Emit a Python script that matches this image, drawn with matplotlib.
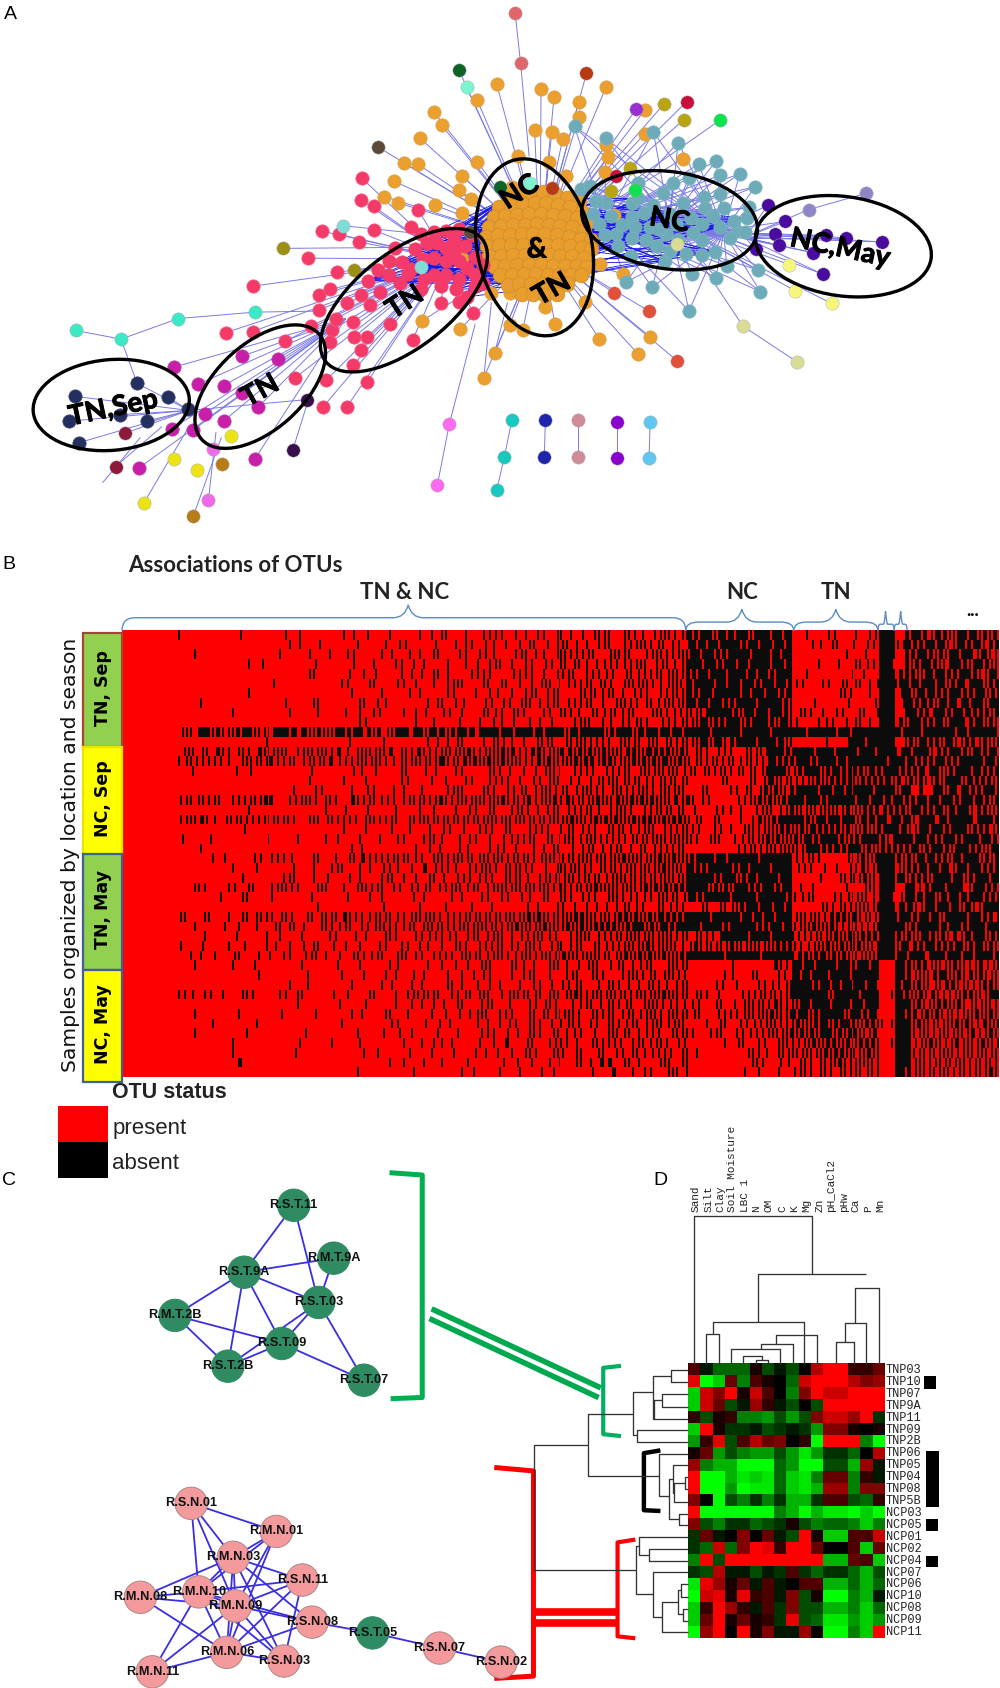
import numpy as np
import matplotlib
matplotlib.use("Agg")
import matplotlib.pyplot as plt
import matplotlib.patheffects as pe
from matplotlib.collections import LineCollection
from matplotlib.colors import LinearSegmentedColormap, ListedColormap
from matplotlib.patches import Ellipse, Rectangle, Circle, PathPatch
from matplotlib.path import Path

# ---- panel A nodes ----
orange_outer = [(460,78),(501,82),(513,90),(561,81),(442,93),(536,94),(402,104),(536,108),(409,116),(597,102),
                (389,128),(495,120),(511,122),(521,129),(597,124),(561,134),(563,145),(480,144),(508,150),(374,151),
                (387,152),(442,150),(428,163),(365,168),(425,176),(356,182),(369,188),(403,190),(436,184),(428,197),
                (524,163),(560,159),(474,173),(632,147),(569,199),(556,244),(577,254),(542,280),(391,297),(426,305),
                (472,301),(484,306),(514,300),(505,284),(472,271),(481,271),(455,271),(555,314),(602,312),(591,328),
                (458,327),(448,350),(428,239)]
orange_blob = [(470,183),(481,180),(492,178),(503,178),(514,180),(525,183),(536,187),
               (462,192),(473,191),(484,189),(495,188),(506,188),(517,190),(528,192),(539,196),
               (457,201),(468,200),(479,199),(490,198),(501,198),(512,199),(523,200),(534,202),(545,205),
               (453,210),(464,209),(475,208),(486,208),(497,207),(508,208),(519,209),(530,210),(541,213),
               (450,219),(461,218),(472,218),(483,217),(494,217),(505,217),(516,218),(527,219),(538,221),(547,222),
               (451,228),(462,227),(473,227),(484,227),(495,226),(506,227),(517,227),(528,228),(539,230),(547,231),
               (453,237),(464,237),(475,236),(486,236),(497,236),(508,236),(519,237),(530,237),(541,239),
               (457,246),(468,246),(479,245),(490,245),(501,245),(512,246),(523,246),(534,246),(543,247),
               (463,255),(474,255),(485,254),(496,254),(507,255),(518,255),(529,255),(538,255),
               (470,264),(481,263),(492,263),(503,263),(514,264),(525,263),
               (483,272),(494,272),(505,273),(516,272)]
teal_nodes = [(532,117),(561,128),(605,122),(628,132),(647,152),(663,149),(667,162),(685,161),(699,173),(623,169),
              (638,165),(614,179),(652,182),(667,180),(632,188),(653,193),(670,193),(692,202),(682,214),(667,210),
              (650,207),(620,198),(585,188),(591,183),(561,188),(549,198),(555,207),(585,201),(588,210),(602,210),
              (617,217),(626,207),(570,217),(585,220),(608,228),(635,235),(650,222),(662,233),(676,220),(616,242),
              (584,237),(641,254),(663,257),(673,246),(702,250),(704,270),(638,288),(604,266),(580,261),(538,175),
              (546,172),(591,169),(552,186),(566,200),(576,208),(596,197),(605,190),(610,212),(560,218),(640,202),
              (660,200),(642,216),(628,222),(598,222),(572,228),(690,215),(680,205),(620,232),(650,236),(694,192)]
pink_outer = [(335,165),(334,185),(346,191),(387,194),(346,213),(381,210),(298,214),(314,217),(332,224),(285,239),
              (312,252),(234,265),(295,273),(306,268),(295,287),(288,302),(209,308),(234,307),(264,316),(307,306),
              (306,317),(327,298),(311,295),(340,312),(328,312),(334,324),(382,315),(361,300),(327,338),(340,354),
              (302,352),(273,350),(299,377),(321,377),(408,281),(438,290),(425,280),(321,281),(343,282),(334,273)]
pink_core = [(341,260),(360,255),(378,254),(390,217),(402,215),(413,214),(425,212),(366,230),(384,231),(360,242),
             (381,249),(402,239),(413,242),(425,242),(440,238),(402,255),(413,255),(425,258),(440,255),(440,265),
             (422,268),(408,265),(393,258),(431,228),(413,230),(395,225),(405,225),(420,222),(437,218),(392,240),
             (372,243),(350,250),(370,262),(390,268),(432,248),(420,233),(447,245),(447,262),(432,275),(352,270)]
magenta_nodes = [(161,340),(183,356),(207,357),(224,330),(257,332),(190,383),(207,390),(239,377),(224,364),(159,397),
                 (179,398),(236,425),(129,433)]
navy_nodes = [(127,355),(69,367),(156,368),(174,379),(64,390),(111,384),(136,390),(73,410)]

small_groups = {
    "#8d1a3a": [(116,401),(107,432)],
    "#3de8c5": [(70,306),(112,314),(165,295),(236,289)],
    "#ebe316": [(214,404),(161,425),(182,435),(133,466)],
    "#ee6ae8": [(197,416),(193,463)],
    "#b67c19": [(206,430),(179,478)],
    "#3b0f4c": [(284,370),(271,417)],
    "#fb6cee": [(416,393),(405,449)],
    "#19c9c0": [(474,389),(467,423),(460,454)],
    "#1f24ad": [(505,389),(504,423)],
    "#cf8b97": [(535,389),(535,423)],
    "#8a00cc": [(571,391),(571,424)],
    "#5fc6f0": [(602,391),(601,424)],
    "#e0666b": [(477,12),(482,58)],
    "#0e6424": [(425,65),(463,173)],
    "#7cf5cf": [(432,81),(491,169)],
    "#b73a12": [(543,68),(511,174)],
    "#5b4a3a": [(350,136),(435,215)],
    "#9c8f14": [(262,230),(328,250)],
    "#7fdcd9": [(318,209),(390,247)],
    "#b9a414": [(615,96),(633,111),(583,156),(566,177)],
    "#cb0f3c": [(636,94),(570,163)],
    "#0ee34f": [(667,111),(588,176)],
    "#9a2fd0": [(589,101)],
    "#e2503a": [(569,271),(601,288),(627,334)],
    "#d8dd96": [(688,302),(738,335),(627,226)],
    "#f6f77a": [(731,245),(736,269),(770,281)],
    "#8f86c9": [(802,179),(749,194)],
    "#4a0ba0": [(711,190),(727,205),(718,217),(721,227),(700,231),(765,218),(783,220),(817,224),(753,234),(762,254)],
}
chain_links = [((70,306),(112,314)),((112,314),(165,295)),((165,295),(236,289)),((236,289),(300,288)),
               ((112,314),(127,355)),((477,12),(482,58)),((482,58),(490,145)),((416,393),(405,449)),
               ((416,393),(440,300)),((474,389),(467,423)),((467,423),(460,454)),((505,389),(504,423)),
               ((535,389),(535,423)),((571,391),(571,424)),((602,391),(601,424)),((688,302),(738,335)),
               ((688,302),(640,230)),((802,179),(749,194)),((749,194),(700,215)),((133,466),(175,395)),
               ((179,478),(205,405)),((193,463),(200,400)),((107,432),(150,395)),((95,447),(130,405)),
               ((271,417),(285,372)),((448,350),(455,280)),((458,327),(470,280))]

ellipses = [(103,375,145,84,-5),(241,358,146,80,-42),(374,278,184,88,-38),(495,229,166,106,78),(620,204,164,90,8),(781,228,164,92,8)]
ellipse_text = [("TN,Sep",105,378,12),("TN",241,362,29),("TN",375,280,33),("NC",481,178,33),("&",497,231,0),("TN",511,268,30),("NC",620,204,-10),("NC,May",778,230,-12)]

# ---- panel B, absent OTUs as hex (1 bit = absent), blocks: shared / NC / TN / other ----
otu_rows = [
"0800000010000020400001081002000410a0080492042090284105280a4412a45 dbf5eefd7fbef 01002400812 ff06fb2ed5f7ad6",
"0000000000000840100002000812000401090220810a0425084128092a45090 f7beffdbefdf7 00220a01024 ff4f6df7a5ede9b",
"0800000000010002008048002100840a0048122004a1102a4928054a012a495 7dfb6ffeffbdf 00000010040 ff06df6b5f7e5d2",
"0000010200000040000802004821001008209410240 90a144224892a09445 fefdbf7dffbf7 00040100a24 fe06b7da9fb5f6a".replace(" 90a", "90a"),
"0000000000000002800020410008420a1001248009241024a0491205124a2a5 b7dfeffbdf6ff 01000002080 ff36d5efb6fda5e",
"0000000000000800000002400a0024100812a0050281042a109250a40a95222a9 dffbefdfb7efb 24012050a11 ffbef7f7ade7f5b",
"0000000000100000000000010002000840012004088102504a002944a1049024a5 dbf7ffdefdfb7 000000a4010 ff1f5ef6dfb6fad",
"0100000000002000a0000140880000428110024120a844a0925040a92144a95 f7dfb6ffdffed 00100008002 ff0fb76bde7bf5f",
"0000100000008002000810240041080482005120a40120a440a2512802a449 4a7ffdafbf7ed 0a410240281 ff07ed9fb7ddb6b",
"000000000000000000012000001008004010220808410012a044122901245 2bd6dfd6ff6bd 20044810a10 ff35fb6f5fe6f5a",
"c4b0a4d2a3f5a56fa94ff73ab55f6f9ac57f3ebdd6fb9ffbf7fdeffd7bffd6ff5dfbefb ffefffdfffbff fefffdfbfff ffeffbfffdf7ffe",
"000000000000800000000020001000004210a004291040a5014a92482a50a8525 2bd7a6ffdff75 0000400ffbf ff05af6d7a5b2d5",
"400a150a1a4290d4aa0952a4c42a9530a4d24a95692ab5926d2acd6b56aa6d5db6ad 0a41240529ff6 ffeffbffbfd ff9f7fa6dfb5ede",
"c00248a492440a94b24a1294c492a5488a54a5d29ad5ab5524d6a55ad96d2ad6b5d5a 8a4a4a2524f6d bfb7fdeffff f7fbdb6fb6fff7d",
"0000100000408000000100000881000a0084012000a420410a901248124a0a952a2 50a4a45145ffa 5bfd6f6db5d bfdb6e7d5bfdedb",
"0000000000000002000100200009001020090092410242a044114a8a5122945 0000500142ea5 24ad5b6d5b6 dd65ad2d7faedb5",
"100000000000000000200480010120084020012a0052048a12a45095242a49522a54 014004850b5a9 bffbf7ddffb ff5f0c1f5e7b6fd",
"00100a4a2928124a5b0092a42901a4a2484a525a4a954ab4a592ac9a52b54d5ad6aa65 a12000495ad5b fdfdbfff7ef ddf6df7dfb7ef6b",
"0000100000000020080100040040801024 0a0129084a0925104a9024a514 1002442025425 a952aa5aadb 36dafb6f5dfa6d5".replace(" 0a0129", "0a0129"),
"0050a4a9a20a52494a5202a149242a4940a54a5294a552a54a52a56a96b5aad6d5ada 8a0500209ab7f fdafbf7f5dd f3ef4ff3dffe7fb",
"0000000000400000000000100200100802048101240a0092408a1240a5112a0925 2404840a92ab6 ad76db5aad5 bfdd2fbf6ff5b65",
"0020008000000400080020801004024012880424081124a0512a2549248a52a955 4815011295ad5 6bdbfed6dff 69ffbf76fdbfdf6",
"000100000000000000000010800000102100440089040210a0212844a10a12494 000000494952a a5fdb76feb5 6db6f5bf6bfb6af",
"800800800004100024124400a01028c924a5120a92a5152a4a522a94a552a55aa956ad5 6ffbefffeffff 24a4000a5ab ff6b5ef6d7bfd6b",
"000000010010000200804a01081220418491024a90a524082a5490a5254a95aa9 edbffdbdffbff 124082049a5 ff2b6f7de5f7edb",
"000000000800004a00810021002504102840921240a5104a52a4a512a94a52a95 fffb7f5bdffbf 000200a52d4 ff7adb5ff7d6fef",
"0008200a4004814012a4802a0102a4a09048a12544a12a952a549a4a56aa954b5ad6d ffd6b5fdb7edf 08200010054 ff07c9bfbfc5fb6",
"0000000400a001000010000400820002100042009024088140a41240a9122454a2 f6fffbffdfffb 44a0048a544 fe17ddf5df77f6d",
"0000000000000000200000001000040020010040001080241042108a2405124 0140a2b7efdf7 000148a4aa5 ff3ba5f7ef5d2ff",
"0080050050040a1490a4050a51a4894a2454a9124a5294a95ad4a55b54a96d6ad76db ffefffdf7beff 2a549b6ba52 ffbf6fbd7ff7ed9",
"0009200800102010050a100a44a0915244a1529254aa5256a95aa5ab56db56fd6bdbf fdffb7ffdb7ef 4ab55a4a925 fffadffddfb7fbf",
"1020100040004000810020009004200a4012248904a12a1092a2404aa124a552a5525 0a48fffdffbff 924a56ad5b6 ff6b57b5a65dfad",
"00000400800404008408 10a0208100480904408148124a122a41284a05124a95a5544 5a5296a552adb 48956ad56a9 ff5e6df6dbd6f5a".replace("8 10a", "810a"),
"210040210200a00820480942040a44a02a1209242a512a44a92a56a95528ad5ad5aad ffffdffff7fff 9b5bad6a955 ff7dfe7fbfbeffb",
"0002000800010020000020000801000220004081040a80144202a1042a045089402a5 00000200001a4 fbeffdfb7ef 00fb5b2a56a4b25",
"0000000000000008000004000200400840210010208480104a0201280a4012a450a92 00002200a0048 f7bfdffbfff 00fb2a9bd5a6b4a",
"0000000000000000000804000010002100420014202084010241048a010a4210a4425 0002408012245 ffdbef7dfbe 00ef5a8a6d292da",
"0080091048200a400120a00020400a0041294a048a15022a5142a15a4a95292a55aa5 0a4100124a525 ffffd7ffdff 02f6ad3492b6a5f",
"0000000000000000000080000400200040420840a0094020090a4022508a4502a9122 2402810a949a4 afbfeffbf7f 00ff5a56d5a2952",
"0000000800002000008000400010800a01001020422a04900a1452a40a4a1289522a5 1401248a956a5 df5bffd7ede 00fb65ad292ad5a",
"0000000004000010000000000200000120008108002104240a4108a4120a44a12a254 0040a02449524 b55bd6fb56d 42ff5a94ab5a4d5",
"0000000800000200000008000002001010400200800920420a40a112040a8a11240a5 2012809124a95 ad6bf5ada96 00ff4a92a54b25a",
"0000000000010000000040004001000004020884001020c0140249080a4920944a412 0000205012054 92b56d5ab6d 02ff256a4b2a5a9",
"0000000000010000000100000000408000801002004208102900a40a014090a224905 0800000291052 a54ad6d52b5 00ff4a52a92a54a",
"0000000000003000000000000000000204010080040001020402100a10cc0a1002a05 00000000a4022 0a4295a4aa9 00ff2a4a52a4a52",
"0000000000000000000000000002000000200000208004010020800008030082402a1 0000000810040 4a4290a4a29 00fb2a52a4a4a5a",
]
sample_blocks = ["TN, Sep", "NC, Sep", "TN, May", "NC, May"]
block_colors = ["#92d050", "#ffff00", "#92d050", "#ffff00"]
block_edges = ["#a8452e", "#f0e000", "#3f6090", "#3f6090"]
block_tops = [586, 692, 791, 898, 1002]

# ---- panel C ----
green_net = {"R.S.T.11":(272,1116),"R.M.T.9A":(309,1165),"R.S.T.9A":(226,1178),"R.S.T.03":(295,1206),
             "R.M.T.2B":(162,1218),"R.S.T.09":(261,1244),"R.S.T.2B":(211,1265),"R.S.T.07":(337,1278)}
green_links = [("R.S.T.11","R.S.T.9A"),("R.S.T.11","R.S.T.03"),("R.S.T.9A","R.M.T.9A"),("R.M.T.9A","R.S.T.03"),
               ("R.S.T.9A","R.S.T.03"),("R.S.T.9A","R.M.T.2B"),("R.S.T.9A","R.S.T.2B"),("R.S.T.9A","R.S.T.09"),
               ("R.M.T.2B","R.S.T.09"),("R.M.T.2B","R.S.T.2B"),("R.S.T.03","R.S.T.09"),("R.S.T.03","R.S.T.07"),
               ("R.S.T.09","R.S.T.07"),("R.S.T.09","R.S.T.2B"),("R.S.T.03","R.S.T.2B")]
pink_net = {"R.S.N.01":(177,1392),"R.M.N.01":(256,1418),"R.M.N.03":(216,1442),"R.S.N.11":(280,1463),
            "R.M.N.08":(130,1479),"R.M.N.10":(184,1474),"R.M.N.09":(218,1487),"R.S.N.08":(289,1502),
            "R.S.T.05":(345,1512),"R.S.N.07":(407,1526),"R.S.N.02":(464,1539),"R.M.N.06":(210,1530),
            "R.S.N.03":(263,1538),"R.M.N.11":(141,1548)}
pink_links = [("R.S.N.01","R.M.N.01"),("R.S.N.01","R.M.N.03"),("R.S.N.01","R.M.N.10"),("R.S.N.01","R.M.N.09"),
              ("R.M.N.01","R.M.N.03"),("R.M.N.01","R.M.N.10"),("R.M.N.01","R.M.N.09"),("R.M.N.01","R.M.N.06"),
              ("R.M.N.03","R.S.N.11"),("R.M.N.03","R.M.N.08"),("R.M.N.03","R.M.N.10"),("R.M.N.03","R.M.N.09"),
              ("R.M.N.03","R.S.N.08"),("R.M.N.03","R.M.N.06"),("R.M.N.03","R.S.N.03"),("R.S.N.11","R.M.N.10"),
              ("R.S.N.11","R.M.N.09"),("R.S.N.11","R.M.N.06"),("R.S.N.11","R.S.N.03"),("R.M.N.08","R.M.N.10"),
              ("R.M.N.08","R.M.N.09"),("R.M.N.08","R.M.N.06"),("R.M.N.10","R.M.N.09"),("R.M.N.10","R.S.N.08"),
              ("R.M.N.10","R.M.N.06"),("R.M.N.10","R.M.N.11"),("R.M.N.10","R.S.N.03"),("R.M.N.09","R.S.N.08"),
              ("R.M.N.09","R.M.N.06"),("R.M.N.09","R.S.N.03"),("R.M.N.09","R.M.N.11"),("R.S.N.08","R.M.N.06"),
              ("R.S.N.08","R.S.T.05"),("R.M.N.06","R.S.N.03"),("R.M.N.06","R.M.N.11"),("R.S.T.05","R.S.N.07"),
              ("R.S.N.07","R.S.N.02")]

# ---- panel D ----
soil_vars = ["Sand","Silt","Clay","Soil Moisture","LBC 1","N","OM","C","K","Mg","Zn","pH_CaCl2","pHw","Ca","P","Mn"]
var_label_x = [498,535,572,607,645,680,717,758,792,830,868,905,942,978,1015,1050]
plot_names = ["TNP03","TNP10","TNP07","TNP9A","TNP11","TNP09","TNP2B","TNP06","TNP05","TNP04","TNP08","TNP5B",
              "NCP03","NCP05","NCP01","NCP02","NCP04","NCP07","NCP06","NCP10","NCP08","NCP09","NCP11"]
soil_values = [
    [3,-1,-4,-4,-4,1,-3,-1,-3,0,7,10,10,2,2,4],
    [9,-10,-8,4,-5,3,1,0,-4,8,10,10,10,7,5,6],
    [-8,8,5,10,1,8,3,0,-5,5,10,8,8,10,10,10],
    [-8,8,4,-3,-1,6,2,-1,-3,0,-3,10,10,10,10,10],
    [2,-3,1,2,-5,-5,-6,-3,-6,-3,5,8,8,6,10,-2],
    [-8,10,1,-2,-2,-1,-3,-2,-1,-2,-6,5,5,1,0,1],
    [-6,2,9,-3,3,7,4,5,0,2,-10,10,10,10,-5,-10],
    [1,4,-6,-3,-5,-6,-6,-3,-6,-9,-6,-2,-2,-4,0,7],
    [6,-5,-7,-7,-10,-10,-10,-4,-6,-10,-10,-3,-3,-7,6,-1],
    [10,-10,-10,-7,-9,-8,-9,-4,-8,-9,-5,4,4,-5,2,-1],
    [10,-10,-10,-6,-10,-9,-9,-4,-8,-9,-7,6,6,-5,5,5],
    [5,0,-10,-3,-5,-2,-5,-2,-7,-7,-2,3,3,-3,-4,2],
    [10,-10,-10,-10,-10,-10,-10,-5,-7,-10,-7,-9,-9,-10,-8,-10],
    [5,-3,-5,-2,-2,-4,-3,-2,1,-3,-5,-4,-4,-5,-8,-5],
    [-2,4,-1,0,5,0,4,-1,-3,10,1,-8,-8,3,3,8],
    [-2,-4,8,-4,5,10,9,2,10,10,4,0,0,3,-8,4],
    [-5,10,-3,10,10,10,10,10,10,10,10,-7,-7,4,3,-8],
    [-2,-3,7,-1,-1,-3,-1,-2,3,-2,-4,-2,-2,-4,-7,-3],
    [-9,9,6,1,4,-1,3,-1,0,3,3,-7,-7,-4,-7,-4],
    [-10,8,9,1,9,2,3,-1,5,-3,1,-10,-10,-5,-7,-1],
    [-8,2,10,6,2,-1,3,-2,5,-3,-3,-7,-7,-5,-8,-4],
    [-8,4,10,1,4,1,2,-2,9,-3,-4,-9,-9,-6,-8,-6],
    [-10,6,10,0,10,1,5,-1,-1,6,0,-10,-10,-5,-8,10],
]
# merges: left x, right x, left bottom, right bottom, top (in crop units)
var_merges = [(493,847,667,408,238),(683,1009,545,408,408),(548,822,580,667,545),(529,566,667,667,580),
              (738,862,608,667,583),(692,788,625,667,608),(603,751,667,667,625),(640,695,667,654,645),
              (677,714,667,667,654),(975,1046,548,667,447),(945,1009,602,667,548),(917,973,667,667,602)]
# merges: top y, bottom y, top child x, bottom child x, node x
plot_merges = [(900,1262,173,318,13),(812,990,308,388,173),(748,873,370,321,308),(703,825,422,372,370),
               (685,720,473,473,422),(770,825,397,473,372),(755,790,473,473,397),(857,892,473,473,321),
               (927,1050,473,418,388),(1000,1115,428,448,418),(960,1040,473,432,428),(1012,1065,465,473,432),
               (995,1030,473,473,465),(1100,1132,473,473,448),(1195,1332,326,370,318),(1167,1220,473,357,326),
               (1203,1238,473,473,357),(1270,1398,473,395,370),(1357,1442,445,473,395),(1320,1390,452,458,445),
               (1305,1342,473,473,452),(1375,1410,473,473,458)]


def dx(v):
    return 490.7 + 0.3086 * v


def dy(v):
    return 1263 + 0.32 * (v - 667)


fig = plt.figure(figsize=(10, 16.88), dpi=100)
ax = fig.add_axes([0, 0, 1, 1])

# panel A edges
hub_c = (500, 228)
hub_t = (620, 205)
hub_p = (415, 240)
hub_l = (320, 295)
thin = []
for p in orange_outer:
    thin.append((p, hub_c))
for p in teal_nodes:
    thin.append((p, hub_t))
    thin.append((p, (670, 215)))
    thin.append((p, (560, 205)))
for p in pink_outer:
    thin.append((p, hub_p))
for p in magenta_nodes:
    thin.append((p, hub_l))
for p in navy_nodes:
    thin.append((p, (175, 380)))
for c, pts in small_groups.items():
    if c == "#4a0ba0":
        for p in pts:
            thin.append((p, (660, 215)))
            thin.append((p, (690, 220)))
    elif c in ("#f6f77a", "#e2503a", "#b9a414", "#0ee34f", "#cb0f3c", "#b73a12", "#5b4a3a", "#0e6424", "#7cf5cf", "#9c8f14", "#7fdcd9", "#9a2fd0"):
        for p in pts:
            thin.append((p, hub_c if p[0] < 700 else hub_t))
    elif c == "#8d1a3a" or c == "#3b0f4c":
        thin.append((pts[0], (175, 380)))
ax.add_collection(LineCollection(thin + chain_links, colors="#7a7ae6", linewidths=0.7, zorder=1))
strong = []
for p in pink_core[::2]:
    for q in orange_blob[::12]:
        strong.append((p, q))
for p in teal_nodes[17:41:2]:
    for q in orange_blob[::16]:
        strong.append((p, q))
ax.add_collection(LineCollection(strong, colors="#1212e6", linewidths=0.6, zorder=1))

# panel A nodes
node_size = 92
ax.scatter(*zip(*orange_outer), s=node_size, c="#ea9f2e", edgecolors="#d8a050", linewidths=0.5, zorder=3)
ax.scatter(*zip(*orange_blob), s=node_size * 1.2, c="#e99d2c", edgecolors="#d0902c", linewidths=0.6, zorder=3)
ax.scatter(*zip(*teal_nodes), s=node_size, c="#6dabb8", edgecolors="#7fb5c0", linewidths=0.5, zorder=3)
ax.scatter(*zip(*pink_outer), s=node_size, c="#f43a68", edgecolors="#f06080", linewidths=0.5, zorder=3)
ax.scatter(*zip(*pink_core), s=node_size, c="#f43a68", edgecolors="#f43a68", linewidths=0.5, zorder=3)
ax.scatter(*zip(*magenta_nodes), s=node_size, c="#c71fa8", edgecolors="#c040a8", linewidths=0.5, zorder=3)
ax.scatter(*zip(*navy_nodes), s=node_size, c="#23305f", edgecolors="#404870", linewidths=0.5, zorder=3)
for c, pts in small_groups.items():
    ax.scatter(*zip(*pts), s=node_size, c=c, edgecolors="#aaaaaa", linewidths=0.3, zorder=3)

for cx, cy, w, h, ang in ellipses:
    ax.add_patch(Ellipse((cx, cy), w, h, angle=ang, fill=False, ec="black", lw=2.4, zorder=5))
for s, x, y, rot in ellipse_text:
    t = ax.text(x, y, s, fontsize=20, family="Lato", weight="bold", rotation=rot, rotation_mode="anchor",
                ha="center", va="center", color="black", zorder=6)
    t.set_path_effects([pe.withStroke(linewidth=0.7, foreground="black")])

# panel B heatmap
bits = np.zeros((len(otu_rows), 440), dtype=int)
widths = [71, 13, 11, 15]
for i, row in enumerate(otu_rows):
    parts = row.split()
    full = parts[0][-64:].rjust(widths[0], "0")
    for part, w in zip(parts[1:], widths[1:]):
        full += part.ljust(w, "0")[:w]
    bits[i] = [int(b) for ch in full for b in format(int(ch, 16), "04b")]
ax.imshow(bits, cmap=ListedColormap(["#ff0000", "#0c0c0c"]), vmin=0, vmax=1, aspect="auto",
          extent=(113, 925, 997, 584), interpolation="nearest", zorder=2)

for name, col, ec, top, bottom in zip(sample_blocks, block_colors, block_edges, block_tops[:-1], block_tops[1:]):
    ax.add_patch(Rectangle((77, top), 36, bottom - top, fc=col, ec=ec, lw=1.6, zorder=3))
    ax.text(95, (top + bottom) / 2 - 2, name, rotation=90, ha="center", va="center", fontsize=12.5,
            family="DejaVu Sans", weight="bold", zorder=4)
ax.text(65, 792, "Samples organized by location and season", rotation=90, ha="center", va="center",
        fontsize=14.6, family="DejaVu Sans", color="#111111")
ax.text(119, 524, "Associations of OTUs", fontsize=16, family="Lato", weight="bold", ha="left", va="center", color="#222222")
for s, x in [("TN & NC", 375), ("NC", 687), ("TN", 774)]:
    ax.text(x, 549, s, fontsize=16, family="Lato", weight="bold", ha="center", va="center", color="#222222")
ax.text(901, 565, "...", fontsize=13, family="Lato", weight="bold", ha="center", va="center")


def brace(x0, x1, tip, level, top, bottom=584):
    verts = [(x0, bottom), (x0, level), (x0 + 12, level), (tip - 14, level), (tip - 3, level), (tip, top),
             (tip + 3, level), (tip + 14, level), (x1 - 12, level), (x1, level), (x1, bottom)]
    if x1 - x0 < 30:
        verts = [(x0, bottom), (x0, level), (x0 + 2, level), (tip - 2, level), (tip - 1, level), (tip, top),
                 (tip + 1, level), (tip + 2, level), (x1 - 2, level), (x1, level), (x1, bottom)]
    codes = [Path.MOVETO, Path.CURVE3, Path.CURVE3, Path.LINETO, Path.CURVE3, Path.CURVE3, Path.CURVE3, Path.CURVE3,
             Path.LINETO, Path.CURVE3, Path.CURVE3]
    ax.add_patch(PathPatch(Path(verts, codes), fc="none", ec="#5b8cc4", lw=1.0, zorder=4))


brace(113, 635, 378, 572, 560)
brace(635, 735, 687, 576, 564)
brace(735, 813, 774, 576, 564)
brace(813, 828, 820, 578, 566)
brace(828, 840, 834, 578, 566)

ax.text(104, 1012, "OTU status", fontsize=15.5, family="Liberation Sans", weight="bold", ha="left", va="center", color="#222222")
ax.add_patch(Rectangle((54, 1024), 46, 33, fc="#ff0000", ec="none"))
ax.add_patch(Rectangle((54, 1057), 46, 34, fc="#000000", ec="none"))
ax.text(104, 1045, "present", fontsize=16, family="Liberation Sans", ha="left", va="center", color="#222222")
ax.text(104, 1077, "absent", fontsize=16, family="Liberation Sans", ha="left", va="center", color="#222222")


# panel C
def draw_net(nodes, links, fill, edge):
    segs = [(nodes[a], nodes[b]) for a, b in links]
    ax.add_collection(LineCollection(segs, colors="#3a2ee0", linewidths=1.3, zorder=2))
    for name, pos in nodes.items():
        c = "#2e8b62" if name == "R.S.T.05" else fill
        e = "#2e8b62" if name == "R.S.T.05" else edge
        ax.add_patch(Circle(pos, 15, fc=c, ec=e, lw=0.7, zorder=3))
        ax.text(pos[0], pos[1], name, fontsize=9.2, family="Liberation Sans", weight="bold",
                ha="center", va="center", color="#111111", zorder=4)


draw_net(green_net, green_links, "#2e8b62", "#2e8b62")
draw_net(pink_net, pink_links, "#f59a9c", "#a88")

ax.plot([363, 391, 391, 364], [1086, 1088, 1294, 1295], color="#00b050", lw=3.6, solid_joinstyle="round")
ax.plot([402, 554], [1213, 1284], color="#00a94f", lw=4)
ax.plot([400, 552], [1222, 1293], color="#00a94f", lw=4)
ax.plot([460, 494, 494, 460], [1359, 1362, 1552, 1554], color="#ff0000", lw=3.6, solid_joinstyle="round")
ax.plot([497, 568], [1493, 1493], color="#ff0000", lw=5.5)
ax.plot([497, 568], [1503, 1503], color="#ff0000", lw=5.5)

# panel D
soil_cmap = LinearSegmentedColormap.from_list("gbr", ["#00ff00", "#000000", "#ff0000"])
ax.imshow(np.array(soil_values), cmap=soil_cmap, vmin=-10, vmax=10, aspect="auto",
          extent=(dx(473), dx(1063), dy(1460), dy(667)), interpolation="nearest", zorder=2)
den = []
for xl, xr, yl, yr, top in var_merges:
    den.append([(dx(xl), dy(yl)), (dx(xl), dy(top)), (dx(xr), dy(top)), (dx(xr), dy(yr))])
for y0, y1, x0, x1, node in plot_merges:
    den.append([(dx(x0), dy(y0)), (dx(node), dy(y0)), (dx(node), dy(y1)), (dx(x1), dy(y1))])
ax.add_collection(LineCollection(den, colors="#333333", linewidths=0.95, zorder=3))
for name, zx in zip(soil_vars, var_label_x):
    ax.text(dx(zx), dy(228), name, rotation=90, ha="center", va="bottom", fontsize=8,
            family="Liberation Mono", color="#222222")
row_h = (1460 - 667) / len(plot_names)
for i, name in enumerate(plot_names):
    ax.text(dx(1068), dy(667 + row_h * (i + 0.5)), name, ha="left", va="center", fontsize=8.6,
            family="Liberation Mono", color="#222222")
for x0, x1, y0, y1 in [(1182,1220,703,738),(1190,1228,920,1080),(1190,1225,1115,1150),(1190,1225,1222,1255)]:
    ax.add_patch(Rectangle((dx(x0), dy(y0)), dx(x1) - dx(x0), dy(y1) - dy(y0), fc="black", ec="none"))
ax.plot([dx(267), dx(220), dx(220), dx(267)], [dy(673), dy(678), dy(870), dy(875)], color="#00b060", lw=3)
ax.plot([dx(385), dx(342), dx(342), dx(385)], [dy(918), dy(925), dy(1090), dy(1092)], color="black", lw=3.2)
ax.plot([dx(310), dx(263), dx(263), dx(310)], [dy(1176), dy(1183), dy(1455), dy(1460)], color="#ff0000", lw=3)

for s, x, y in [("A", 10, 13), ("B", 8, 523), ("C", 8, 1093), ("D", 612, 1093)]:
    ax.text(x, y, s, fontsize=14, family="Liberation Sans", ha="center", va="center", color="black")

ax.set_xlim(0, 926)
ax.set_ylim(1563, 0)
ax.axis("off")
fig.savefig("out.png", dpi=100, facecolor="white")
